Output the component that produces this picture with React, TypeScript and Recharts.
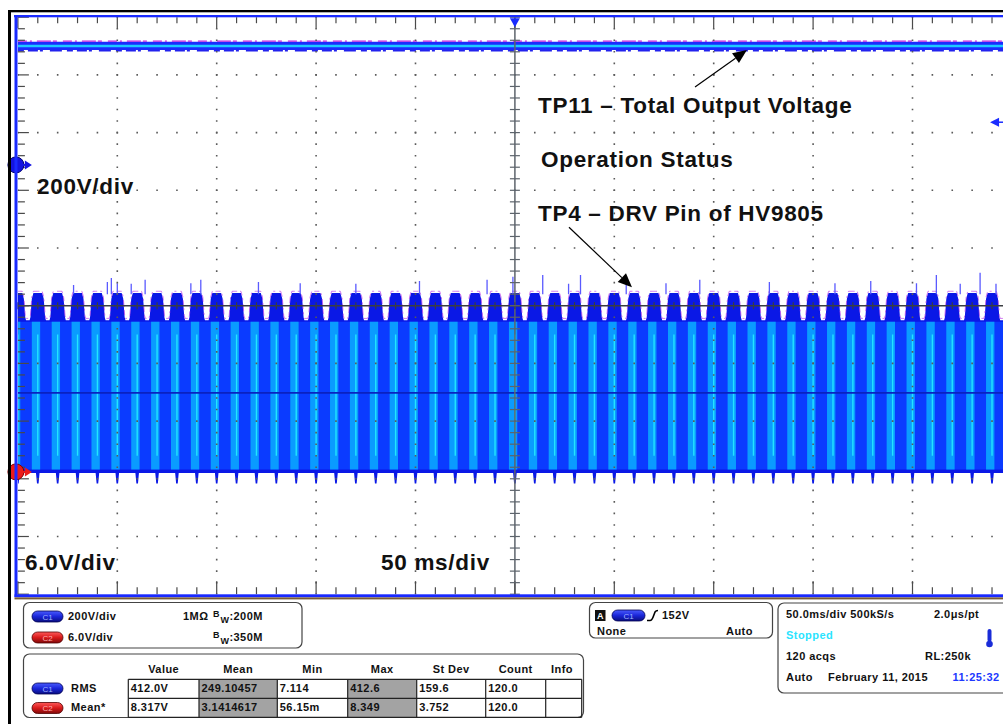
import React from "react";
import {
  Area,
  ComposedChart,
  Line,
  ReferenceDot,
  ReferenceLine,
  XAxis,
  YAxis,
} from "recharts";

// screen: 10 x 10 divisions, x in ms (50 ms/div), y in screen divisions (-5..5)
const X_MAX = 500;
const Y_MIN = -5;
const Y_MAX = 5;
const PX_T = 994 / X_MAX; // px per ms
const PX_D = 577 / 10; // px per div

// C1 - total output voltage, 200 V/div
const C1_GROUND_DIV = 2.44;
const C1_VOLTS = 412.0;
const C1_VOLTS_PER_DIV = 200;

// C2 - DRV pin, 6.0 V/div. one 10 ms ripple period
const C2_PERIOD_MS = 10;
const C2_PERIODS = 50;
const C2_PHASE = [0, 0.4, 0.9, 2.2, 3.0, 3.7, 4.1, 5.9, 6.3, 7.0, 7.8, 9.1, 9.6];
const C2_TOP = [0.22, 0.22, 0.22, 0.22, 0.12, -0.2, -0.25, -0.25, -0.2, 0.12, 0.22, 0.22, 0.22];
const C2_BOTTOM = [-3.08, -3.08, -2.9, -2.9, -2.9, -2.9, -2.9, -2.9, -2.9, -2.9, -2.9, -2.9, -3.08];
const C2_BRIGHT = [-3.0, 1.2];
const C2_BODY = [-2.84, -0.28];
const C2_CYAN = [-2.6, -0.5];
const C2_MEAN_DIV = -1.51;
const C2_GROUND_DIV = -2.88;

// glitches sticking out above the C2 envelope
const SPIKE_T = [28, 45, 47, 50, 57, 64, 87, 92, 121, 142, 170, 202, 236, 249, 264, 277, 283, 306, 326, 343, 378, 411, 429, 452, 462, 474, 484, 492];
const SPIKE_TOP = [0.36, 0.41, 0.48, 0.39, 0.38, 0.45, 0.39, 0.45, 0.41, 0.39, 0.38, 0.43, 0.45, 0.5, 0.53, 0.38, 0.53, 0.39, 0.39, 0.45, 0.41, 0.39, 0.43, 0.39, 0.53, 0.38, 0.57, 0.38];
const SPIKE_BASE = 0.2;

const TRIGGER_T = 250;
const TRIGGER_LEVEL_DIV = 3.18;

const MEAS_HEAD = ["Value", "Mean", "Min", "Max", "St Dev", "Count", "Info"];
const MEAS_C1 = ["412.0V", "249.10457", "7.114", "412.6", "159.6", "120.0", ""];
const MEAS_C2 = ["8.317V", "3.1414617", "56.15m", "8.349", "3.752", "120.0", ""];

const X_TICKS = Array.from({ length: 51 }, (_, i) => i * 10);
const Y_TICKS = Array.from({ length: 51 }, (_, i) => Math.round((-5 + i * 0.2) * 10) / 10);
const X_GRID = [50, 100, 150, 200, 300, 350, 400, 450];
const Y_GRID = [-4, -3, -2, -1, 1, 2, 3, 4];

const c1Level = C1_GROUND_DIV + C1_VOLTS / C1_VOLTS_PER_DIV;
const c1Data = [
  { t: 0, band: [c1Level - 0.07, c1Level + 0.075], v: c1Level, hi: c1Level + 0.085, lo: c1Level - 0.078 },
  { t: X_MAX, band: [c1Level - 0.07, c1Level + 0.075], v: c1Level, hi: c1Level + 0.085, lo: c1Level - 0.078 },
];

const c2Envelope: any[] = [];
const brightCols: any[] = [];
const cyanLines: any[] = [];
for (let k = 0; k <= C2_PERIODS; k++) {
  C2_PHASE.forEach((p, i) => {
    const t = k * C2_PERIOD_MS + p;
    if (t <= X_MAX)
      c2Envelope.push({ t, band: [C2_BOTTOM[i], C2_TOP[i]], edge: C2_TOP[i] + 0.03 });
  });
  const c = k * C2_PERIOD_MS + (C2_BRIGHT[0] + C2_BRIGHT[1]) / 2;
  brightCols.push({ t: c, v: C2_BODY[1] }, { t: c, v: C2_BODY[0] }, { t: c, v: null });
  const cy = k * C2_PERIOD_MS;
  cyanLines.push({ t: cy, v: C2_CYAN[1] }, { t: cy, v: C2_CYAN[0] }, { t: cy, v: null });
}
const bodyData = [
  { t: 0, band: C2_BODY },
  { t: X_MAX, band: C2_BODY },
];
const meanData = [
  { t: 0, v: C2_MEAN_DIV },
  { t: X_MAX, v: C2_MEAN_DIV },
];
const spikeData: any[] = [];
SPIKE_T.forEach((t, i) => {
  spikeData.push({ t, v: SPIKE_BASE }, { t, v: SPIKE_TOP[i] }, { t, v: null });
});

const Arrow = (p: any) => {
  const { x1, y1, x2, y2 } = p;
  const a = Math.atan2(y2 - y1, x2 - x1);
  const L = 14;
  const W = 6;
  const bx = x2 - L * Math.cos(a);
  const by = y2 - L * Math.sin(a);
  const nx = -Math.sin(a) * W;
  const ny = Math.cos(a) * W;
  return (
    <g>
      <line x1={x1} y1={y1} x2={bx} y2={by} stroke="#000" strokeWidth={1.2} />
      <polygon points={`${x2},${y2} ${bx + nx},${by + ny} ${bx - nx},${by - ny}`} fill="#000" />
    </g>
  );
};

const groundMarker = (fill: string, dark: string) => (p: any) => {
  const { cx, cy } = p;
  return (
    <g>
      <circle cx={cx - 2} cy={cy} r={8} fill={fill} stroke={dark} strokeWidth={1} />
      <line x1={cx + 4} y1={cy} x2={cx + 8} y2={cy} stroke={fill} strokeWidth={2} />
      <polygon points={`${cx + 7},${cy - 4.5} ${cx + 14},${cy} ${cx + 7},${cy + 4.5}`} fill={fill} />
    </g>
  );
};

const triggerMarker = (p: any) => {
  const { cx, cy } = p;
  return <polygon points={`${cx - 5},${cy + 1} ${cx + 5},${cy + 1} ${cx},${cy + 10}`} fill="#1a2cff" />;
};

const levelMarker = (p: any) => {
  const { cx, cy } = p;
  return (
    <g>
      <polygon points={`${cx},${cy} ${cx + 9},${cy - 4.5} ${cx + 9},${cy + 4.5}`} fill="#1a2cff" />
      <line x1={cx + 8} y1={cy} x2={cx + 24} y2={cy} stroke="#1a2cff" strokeWidth={1.5} />
    </g>
  );
};

function Scope() {
  const tickColor = "#4a4a4a";
  const crossColor = "#5d646c";
  return (
    <ComposedChart
      width={1020}
      height={600}
      margin={{ top: 17.2, left: 17.9, right: 8.1, bottom: 5.8 }}
    >
      <XAxis type="number" dataKey="t" domain={[0, X_MAX]} hide allowDataOverflow />
      <YAxis type="number" domain={[Y_MIN, Y_MAX]} hide allowDataOverflow />

      {/* C2 waveform */}
      <Area data={c2Envelope} dataKey="band" type="linear" stroke="none" fill="#0a18e6" fillOpacity={1} isAnimationActive={false} dot={false} activeDot={false} />
      <Area data={bodyData} dataKey="band" type="linear" stroke="none" fill="#0b3bff" fillOpacity={1} isAnimationActive={false} dot={false} activeDot={false} />
      <Line data={brightCols} dataKey="v" stroke="#0a9bff" strokeWidth={(C2_BRIGHT[1] - C2_BRIGHT[0]) * PX_T} dot={false} activeDot={false} isAnimationActive={false} />
      <Line data={cyanLines} dataKey="v" stroke="#22e4ff" strokeWidth={1.4} dot={false} activeDot={false} isAnimationActive={false} />
      <Line data={meanData} dataKey="v" stroke="#0a22c0" strokeWidth={1.6} dot={false} activeDot={false} isAnimationActive={false} />
      <Line data={c2Envelope} dataKey="edge" stroke="#b83ae8" strokeOpacity={0.75} strokeWidth={0.9} strokeDasharray="5 3 2 4 7 3" dot={false} activeDot={false} isAnimationActive={false} />
      <Line data={spikeData} dataKey="v" stroke="#5a5aff" strokeWidth={1.3} dot={false} activeDot={false} isAnimationActive={false} />

      {/* C1 waveform */}
      <Area data={c1Data} dataKey="band" type="linear" stroke="none" fill="#1a2cff" fillOpacity={1} isAnimationActive={false} dot={false} activeDot={false} />
      <Line data={c1Data} dataKey="v" stroke="#1ec8ff" strokeWidth={2.6} dot={false} activeDot={false} isAnimationActive={false} />
      <Line data={c1Data} dataKey="hi" stroke="#c020e0" strokeWidth={1.3} strokeDasharray="9 3 2 5 14 2 4 6" dot={false} activeDot={false} isAnimationActive={false} />
      <Line data={c1Data} dataKey="lo" stroke="#2222ee" strokeWidth={1.8} strokeDasharray="6 4 10 2 3 7 12 5" dot={false} activeDot={false} isAnimationActive={false} />

      {/* graticule */}
      {X_GRID.map((t) => (
        <ReferenceLine key={`gx${t}`} x={t} stroke="#5a5a5a" strokeWidth={1.6} strokeDasharray={`1.6 ${PX_D / 5 - 1.6}`} strokeDashoffset={0.8} />
      ))}
      {Y_GRID.map((d) => (
        <ReferenceLine key={`gy${d}`} y={d} stroke="#5a5a5a" strokeWidth={1.6} strokeDasharray={`1.6 ${PX_T * 10 - 1.6}`} strokeDashoffset={0.8} />
      ))}
      <ReferenceLine x={TRIGGER_T} stroke={crossColor} strokeWidth={1.5} />
      <ReferenceLine y={0} stroke="#3a3d42" strokeWidth={1.6} />
      {X_TICKS.map((t) => {
        const major = t % 50 === 0;
        return (
          <React.Fragment key={`tx${t}`}>
            <ReferenceLine segment={[{ x: t, y: Y_MAX }, { x: t, y: Y_MAX - (major ? 11 : 6) / PX_D }]} stroke={tickColor} strokeWidth={1.2} />
            <ReferenceLine segment={[{ x: t, y: Y_MIN }, { x: t, y: Y_MIN + (major ? 13 : 7) / PX_D }]} stroke={tickColor} strokeWidth={1.2} />
            <ReferenceLine segment={[{ x: t, y: -3.5 / PX_D }, { x: t, y: 3.5 / PX_D }]} stroke="#3a3d42" strokeWidth={1.2} />
          </React.Fragment>
        );
      })}
      {Y_TICKS.map((d) => {
        const major = Math.abs(d - Math.round(d)) < 0.01;
        return (
          <React.Fragment key={`ty${d}`}>
            <ReferenceLine segment={[{ x: 0, y: d }, { x: (major ? 11 : 7) / PX_T, y: d }]} stroke={tickColor} strokeWidth={1.2} />
            <ReferenceLine segment={[{ x: TRIGGER_T - 5 / PX_T, y: d }, { x: TRIGGER_T + 5 / PX_T, y: d }]} stroke={crossColor} strokeWidth={1.2} />
          </React.Fragment>
        );
      })}

      {/* annotation arrows */}
      <ReferenceLine segment={[{ x: 340.6, y: 3.79 }, { x: 366.7, y: 4.43 }]} shape={Arrow} ifOverflow="visible" />
      <ReferenceLine segment={[{ x: 277.2, y: 1.36 }, { x: 308.9, y: 0.32 }]} shape={Arrow} ifOverflow="visible" />

      {/* markers */}
      <ReferenceDot x={0} y={C1_GROUND_DIV} shape={groundMarker("#1414e0", "#000070")} ifOverflow="visible" />
      <ReferenceDot x={0} y={C2_GROUND_DIV} shape={groundMarker("#ec1a1a", "#800000")} ifOverflow="visible" />
      <ReferenceDot x={TRIGGER_T} y={Y_MAX} shape={triggerMarker} ifOverflow="visible" />
      <ReferenceDot x={489} y={TRIGGER_LEVEL_DIV} shape={levelMarker} ifOverflow="visible" />
    </ComposedChart>
  );
}

const FONT = "'Liberation Sans', Arial, Helvetica, sans-serif";

function Badge({ x, y, ch, w = 31 }: { x: number; y: number; ch: string; w?: number }) {
  const id = ch === "C1" ? "gBlue" : "gRed";
  return (
    <g>
      <rect x={x} y={y} width={w} height={11} rx={5.5} fill={`url(#${id})`} stroke={ch === "C1" ? "#000050" : "#500000"} strokeWidth={0.8} />
      <text x={x + w / 2} y={y + 8.5} textAnchor="middle" fontSize={8} fill={ch === "C1" ? "#9fb4ff" : "#ffb0b0"} fontFamily={FONT}>
        {ch}
      </text>
    </g>
  );
}

const COL_X = [128.3, 199, 277.3, 347.7, 416.7, 485.7, 545.7, 581.7];
const ROW_Y = [679.3, 698.3, 717.3];

function Bandwidth({ y, value, style }: { y: number; value: string; style: any }) {
  return (
    <text x={213} y={y} style={style}>
      <tspan dy={-3} fontSize={9}>B</tspan>
      <tspan dx={0.5} dy={6.5} fontSize={9}>W</tspan>
      <tspan dy={-3.5}>{value}</tspan>
    </text>
  );
}

function Overlay() {
  const txt = { fontFamily: FONT, fontWeight: 700, fontSize: 11, letterSpacing: 0.45, fill: "#111" } as const;
  const big = { fontFamily: FONT, fontWeight: 700, fontSize: 22.5, letterSpacing: 0.7, fill: "#111" } as const;
  return (
    <svg width={1003} height={724} style={{ position: "absolute", left: 0, top: 0, pointerEvents: "none" }}>
      <defs>
        <linearGradient id="gBlue" x1="0" y1="0" x2="0" y2="1">
          <stop offset="0" stopColor="#4a5cff" />
          <stop offset="0.5" stopColor="#1a26d8" />
          <stop offset="1" stopColor="#0a0e80" />
        </linearGradient>
        <linearGradient id="gRed" x1="0" y1="0" x2="0" y2="1">
          <stop offset="0" stopColor="#ff5a5a" />
          <stop offset="0.5" stopColor="#d81a1a" />
          <stop offset="1" stopColor="#800a0a" />
        </linearGradient>
      </defs>

      {/* screen frame */}
      <rect x={8} y={10} width={995} height={2.3} fill="#000" />
      <rect x={8} y={10} width={3} height={714} fill="#000" />
      <rect x={14} y={15} width={989} height={2.3} fill="#1a2aff" />
      <rect x={14.5} y={15} width={3} height={582} fill="#1a2aff" />
      <rect x={14.5} y={594.3} width={989} height={3} fill="#1a2aff" />
      <rect x={14.5} y={597.4} width={989} height={2} fill="#7a5c34" />

      {/* annotations */}
      <text x={538} y={113.3} style={big}>TP11 – Total Output Voltage</text>
      <text x={541} y={166.7} style={big}>Operation Status</text>
      <text x={538} y={221} style={big}>TP4 – DRV Pin of HV9805</text>
      <text x={37} y={194} style={big}>200V/div</text>
      <text x={25} y={570} style={big}>6.0V/div</text>
      <text x={381} y={570} style={big}>50 ms/div</text>

      {/* channel panel */}
      <rect x={23.5} y={602.5} width={278.5} height={45.5} rx={6} fill="#fff" stroke="#444" strokeWidth={1.2} />
      <Badge x={32} y={611} ch="C1" />
      <text x={68} y={619.5} style={txt}>200V/div</text>
      <text x={183} y={619.5} style={txt}>1MΩ</text>
      <Bandwidth y={619.5} value=":200M" style={txt} />
      <Badge x={32} y={632} ch="C2" />
      <text x={68} y={640.5} style={txt}>6.0V/div</text>
      <Bandwidth y={640.5} value=":350M" style={txt} />

      {/* measurement panel */}
      <rect x={23.5} y={654} width={560} height={63.5} rx={6} fill="#fff" stroke="#444" strokeWidth={1.2} />
      {MEAS_HEAD.map((h, i) => (
        <text key={h} x={i === 6 ? 562 : (COL_X[i] + COL_X[i + 1]) / 2} y={672.5} textAnchor="middle" style={txt}>
          {h}
        </text>
      ))}
      <rect x={COL_X[1]} y={ROW_Y[0]} width={COL_X[2] - COL_X[1]} height={ROW_Y[2] - ROW_Y[0]} fill="#a3a3a3" />
      <rect x={COL_X[3]} y={ROW_Y[0]} width={COL_X[4] - COL_X[3]} height={ROW_Y[2] - ROW_Y[0]} fill="#a3a3a3" />
      {ROW_Y.map((y) => (
        <line key={`r${y}`} x1={COL_X[0]} y1={y} x2={COL_X[7]} y2={y} stroke="#222" strokeWidth={1.2} />
      ))}
      {COL_X.map((x) => (
        <line key={`c${x}`} x1={x} y1={ROW_Y[0]} x2={x} y2={ROW_Y[2]} stroke="#222" strokeWidth={1.2} />
      ))}
      {MEAS_C1.map((v, i) => (
        <text key={`m1${i}`} x={COL_X[i] + 2.5} y={692} style={txt}>{v}</text>
      ))}
      {MEAS_C2.map((v, i) => (
        <text key={`m2${i}`} x={COL_X[i] + 2.5} y={711} style={txt}>{v}</text>
      ))}
      <Badge x={32} y={683} ch="C1" />
      <text x={71} y={692} style={txt}>RMS</text>
      <Badge x={32} y={702.5} ch="C2" />
      <text x={71} y={711} style={txt}>Mean*</text>

      {/* trigger panel */}
      <rect x={589.5} y={602.5} width={183} height={35.5} rx={6} fill="#fff" stroke="#444" strokeWidth={1.2} />
      <rect x={595} y={610} width={10.5} height={11} fill="#111" />
      <text x={600.3} y={619} textAnchor="middle" style={{ ...txt, fontSize: 9, fill: "#fff", letterSpacing: 0 }}>A</text>
      <Badge x={612} y={610} ch="C1" w={33} />
      <path d="M647,620.5 L650,620.5 Q652,620.5 653.5,616 L655,612 Q656,610.5 658,610.5" stroke="#000" strokeWidth={1.6} fill="none" />
      <text x={662} y={618.5} style={txt}>152V</text>
      <text x={597} y={635} style={txt}>None</text>
      <text x={726} y={635} style={txt}>Auto</text>

      {/* timebase panel */}
      <rect x={778} y={603} width={240} height={90} rx={6} fill="#fff" stroke="#444" strokeWidth={1.2} />
      <text x={786} y={618} style={txt}>50.0ms/div 500kS/s</text>
      <text x={934} y={618} style={txt}>2.0μs/pt</text>
      <text x={786} y={639} style={{ ...txt, fill: "#2ae4ff" }}>Stopped</text>
      <rect x={987.5} y={629} width={4} height={13} rx={2} fill="#1a2cd8" />
      <circle cx={989.5} cy={644} r={3.3} fill="#1a2cd8" />
      <text x={786} y={660} style={txt}>120 acqs</text>
      <text x={925} y={660} style={txt}>RL:250k</text>
      <text x={786} y={680.5} style={txt}>Auto</text>
      <text x={828} y={680.5} style={txt}>February 11, 2015</text>
      <text x={952.5} y={680.5} style={{ ...txt, fill: "#2038ff" }}>11:25:32</text>
    </svg>
  );
}

export default function App() {
  return (
    <div style={{ position: "relative", width: 1003, height: 724, overflow: "hidden", background: "#fff" }}>
      <style>{`body{margin:0;overflow:hidden}`}</style>
      <div style={{ position: "absolute", left: 0, top: 0 }}>
        <Scope />
      </div>
      <Overlay />
    </div>
  );
}
